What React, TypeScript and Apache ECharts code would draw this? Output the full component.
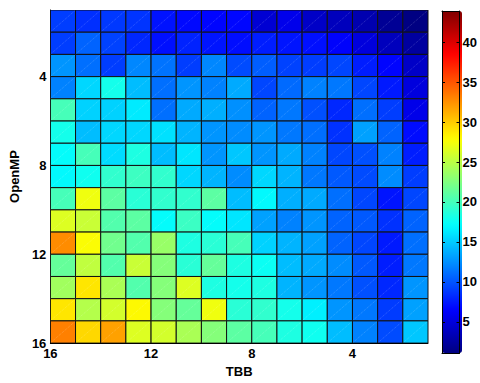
import React, { useEffect, useRef } from "react";
import * as echarts from "echarts";

// Cell edges (pcolor-style grid: 16 edges -> 15 cells per axis)
const tbbEdges = [16, 15, 14, 13, 12, 11, 10, 9, 8, 7, 6, 5, 4, 3, 2, 1];
const openmpEdges = [1, 2, 3, 4, 5, 6, 7, 8, 9, 10, 11, 12, 13, 14, 15, 16];
const xTickValues = [4, 8, 12, 16];
const yTickValues = [4, 8, 12, 16];
const colorbarTicks = [5, 10, 15, 20, 25, 30, 35, 40];
const colorMin = 1.1;
const colorMax = 43.9;

// Values per OpenMP row (top to bottom), columns follow tbbEdges (left to right)
const row1 = [9.0, 8.4, 8.8, 8.6, 7.2, 6.8, 6.6, 6.7, 4.6, 5.6, 4.1, 3.7, 3.1, 2.0, 1.2];
const row2 = [9.0, 10.6, 9.2, 8.1, 7.1, 7.9, 7.3, 7.0, 7.7, 7.3, 7.1, 6.4, 5.0, 3.7, 2.4];
const row3 = [12.7, 11.1, 9.0, 12.1, 11.3, 9.0, 12.1, 9.6, 10.4, 9.2, 9.0, 9.4, 7.7, 6.6, 4.1];
const row4 = [11.9, 15.5, 18.0, 14.4, 11.1, 12.7, 11.9, 13.6, 9.4, 10.9, 11.9, 11.5, 9.4, 7.5, 5.0];
const row5 = [20.1, 15.3, 15.3, 16.3, 11.1, 13.6, 13.8, 12.5, 10.6, 11.5, 9.8, 8.1, 11.1, 9.0, 5.5];
const row6 = [18.0, 14.4, 15.5, 15.5, 15.9, 14.0, 12.7, 12.3, 12.7, 11.5, 11.1, 8.5, 13.2, 10.6, 6.9];
const row7 = [17.2, 20.1, 15.7, 18.4, 14.4, 16.1, 12.7, 14.8, 12.7, 13.6, 11.9, 9.4, 9.8, 11.9, 7.7];
const row8 = [17.0, 17.8, 19.2, 19.7, 19.2, 15.5, 14.0, 12.3, 15.5, 14.0, 11.5, 10.2, 9.6, 12.3, 9.0];
const row9 = [20.1, 27.2, 21.0, 18.9, 19.2, 19.2, 21.0, 14.4, 17.0, 13.8, 13.6, 11.1, 9.4, 7.3, 9.4];
const row10 = [26.4, 25.6, 20.6, 21.0, 17.2, 19.6, 17.2, 16.1, 13.2, 11.9, 12.7, 10.6, 10.2, 8.5, 10.6];
const row11 = [32.7, 27.8, 21.9, 20.6, 23.5, 18.4, 18.9, 20.1, 15.3, 14.0, 13.2, 10.6, 9.4, 7.5, 11.1];
const row12 = [21.4, 25.2, 20.6, 25.6, 22.7, 18.9, 21.4, 18.4, 17.6, 14.4, 13.6, 12.3, 10.2, 7.7, 11.5];
const row13 = [23.9, 28.9, 24.3, 20.6, 22.7, 26.4, 18.4, 18.0, 18.4, 14.0, 12.7, 11.5, 9.8, 8.1, 12.7];
const row14 = [28.9, 24.7, 26.0, 28.0, 22.7, 21.4, 27.2, 18.9, 19.2, 18.0, 16.5, 12.7, 11.5, 8.9, 13.2];
const row15 = [33.2, 29.5, 31.8, 26.4, 26.0, 24.3, 22.7, 21.0, 20.1, 18.4, 17.8, 14.4, 11.9, 9.6, 14.8];
const rows = [row1, row2, row3, row4, row5, row6, row7, row8, row9, row10, row11, row12, row13, row14, row15];

function jetColors(n: number): string[] {
  const clamp = (v: number) => Math.max(0, Math.min(1, v));
  const out: string[] = [];
  for (let k = 0; k < n; k++) {
    const t = k / (n - 1);
    const r = clamp(1.5 - Math.abs(4 * t - 3));
    const g = clamp(1.5 - Math.abs(4 * t - 2));
    const b = clamp(1.5 - Math.abs(4 * t - 1));
    out.push(`rgb(${Math.round(r * 255)},${Math.round(g * 255)},${Math.round(b * 255)})`);
  }
  return out;
}

const FONT = "'Liberation Sans', Arial, Helvetica, sans-serif";

export default function App() {
  const ref = useRef<HTMLDivElement>(null);
  useEffect(() => {
    document.body.style.margin = "0";
    if (!ref.current) return;
    const chart = echarts.init(ref.current, undefined, { renderer: "svg" });

    const data: number[][] = [];
    rows.forEach((row, j) => {
      row.forEach((v, i) => {
        data.push([tbbEdges[i], tbbEdges[i + 1], openmpEdges[j], openmpEdges[j + 1], v]);
      });
    });

    const labelStyle = { color: "#000", fontWeight: "bold" as const, fontSize: 13, fontFamily: FONT };

    chart.setOption({
      animation: false,
      backgroundColor: "#fff",
      grid: [
        { left: 43, top: 10, width: 385, height: 343 },
        { left: 442, top: 11, width: 20, height: 342 },
      ],
      xAxis: [
        {
          type: "value",
          gridIndex: 0,
          min: 1,
          max: 16,
          inverse: true,
          name: "TBB",
          nameLocation: "middle",
          nameGap: 21,
          nameTextStyle: labelStyle,
          axisLine: { show: true, lineStyle: { color: "#000", width: 1 } },
          axisTick: { show: false },
          splitLine: { show: false },
          axisLabel: { ...labelStyle, margin: 4, customValues: xTickValues },
        },
        {
          type: "value",
          gridIndex: 1,
          min: 0,
          max: 1,
          position: "bottom",
          z: 10,
          axisLine: { show: true, onZero: false, lineStyle: { color: "#000", width: 1 } },
          axisTick: { show: false },
          axisLabel: { show: false },
          splitLine: { show: false },
        },
        {
          type: "value",
          gridIndex: 1,
          min: 0,
          max: 1,
          position: "top",
          z: 10,
          axisLine: { show: true, onZero: false, lineStyle: { color: "#000", width: 1 } },
          axisTick: { show: false },
          axisLabel: { show: false },
          splitLine: { show: false },
        },
      ],
      yAxis: [
        {
          type: "value",
          gridIndex: 0,
          min: 1,
          max: 16,
          inverse: true,
          name: "OpenMP",
          nameLocation: "middle",
          nameGap: 25,
          nameRotate: 90,
          nameTextStyle: labelStyle,
          axisLine: { show: true, lineStyle: { color: "#000", width: 1 } },
          axisTick: { show: false },
          splitLine: { show: false },
          axisLabel: { ...labelStyle, margin: 4, customValues: yTickValues },
        },
        {
          type: "value",
          gridIndex: 1,
          min: colorMin,
          max: colorMax,
          position: "left",
          z: 10,
          axisLine: { show: true, onZero: false, lineStyle: { color: "#000", width: 1 } },
          axisTick: { show: true, inside: true, length: 3, lineStyle: { color: "#000" }, customValues: colorbarTicks },
          axisLabel: { show: false },
          splitLine: { show: false },
        },
        {
          type: "value",
          gridIndex: 1,
          min: colorMin,
          max: colorMax,
          position: "right",
          z: 10,
          axisLine: { show: true, onZero: false, lineStyle: { color: "#000", width: 1 } },
          axisTick: { show: true, inside: true, length: 3, lineStyle: { color: "#000" }, customValues: colorbarTicks },
          axisLabel: { ...labelStyle, margin: 3, customValues: colorbarTicks },
          splitLine: { show: false },
        },
      ],
      visualMap: {
        type: "continuous",
        min: colorMin,
        max: colorMax,
        dimension: 4,
        seriesIndex: 0,
        orient: "vertical",
        left: 442,
        top: 11,
        itemWidth: 20,
        itemHeight: 342,
        padding: 0,
        calculable: false,
        hoverLink: false,
        inRange: { color: jetColors(64) },
      },
      series: [
        {
          type: "custom",
          xAxisIndex: 0,
          yAxisIndex: 0,
          clip: true,
          encode: { x: [0, 1], y: [2, 3] },
          data,
          renderItem: (params: any, api: any) => {
            const p0 = api.coord([api.value(0), api.value(2)]);
            const p1 = api.coord([api.value(1), api.value(3)]);
            const x = Math.min(p0[0], p1[0]);
            const y = Math.min(p0[1], p1[1]);
            const w = Math.abs(p1[0] - p0[0]);
            const h = Math.abs(p1[1] - p0[1]);
            return {
              type: "group",
              children: [
                {
                  type: "rect",
                  shape: { x, y, width: w, height: h },
                  style: { fill: api.visual("color"), stroke: "#111", lineWidth: 1 },
                },
                {
                  type: "line",
                  shape: { x1: x + 1, y1: y + h - 1, x2: x + w - 1, y2: y + 1 },
                  style: { stroke: "rgba(255,255,255,0.35)", lineWidth: 0.6, lineDash: [1, 1] },
                },
              ],
            };
          },
        },
      ],
    });
    return () => chart.dispose();
  }, []);
  return <div ref={ref} style={{ width: 480, height: 383 }} />;
}
